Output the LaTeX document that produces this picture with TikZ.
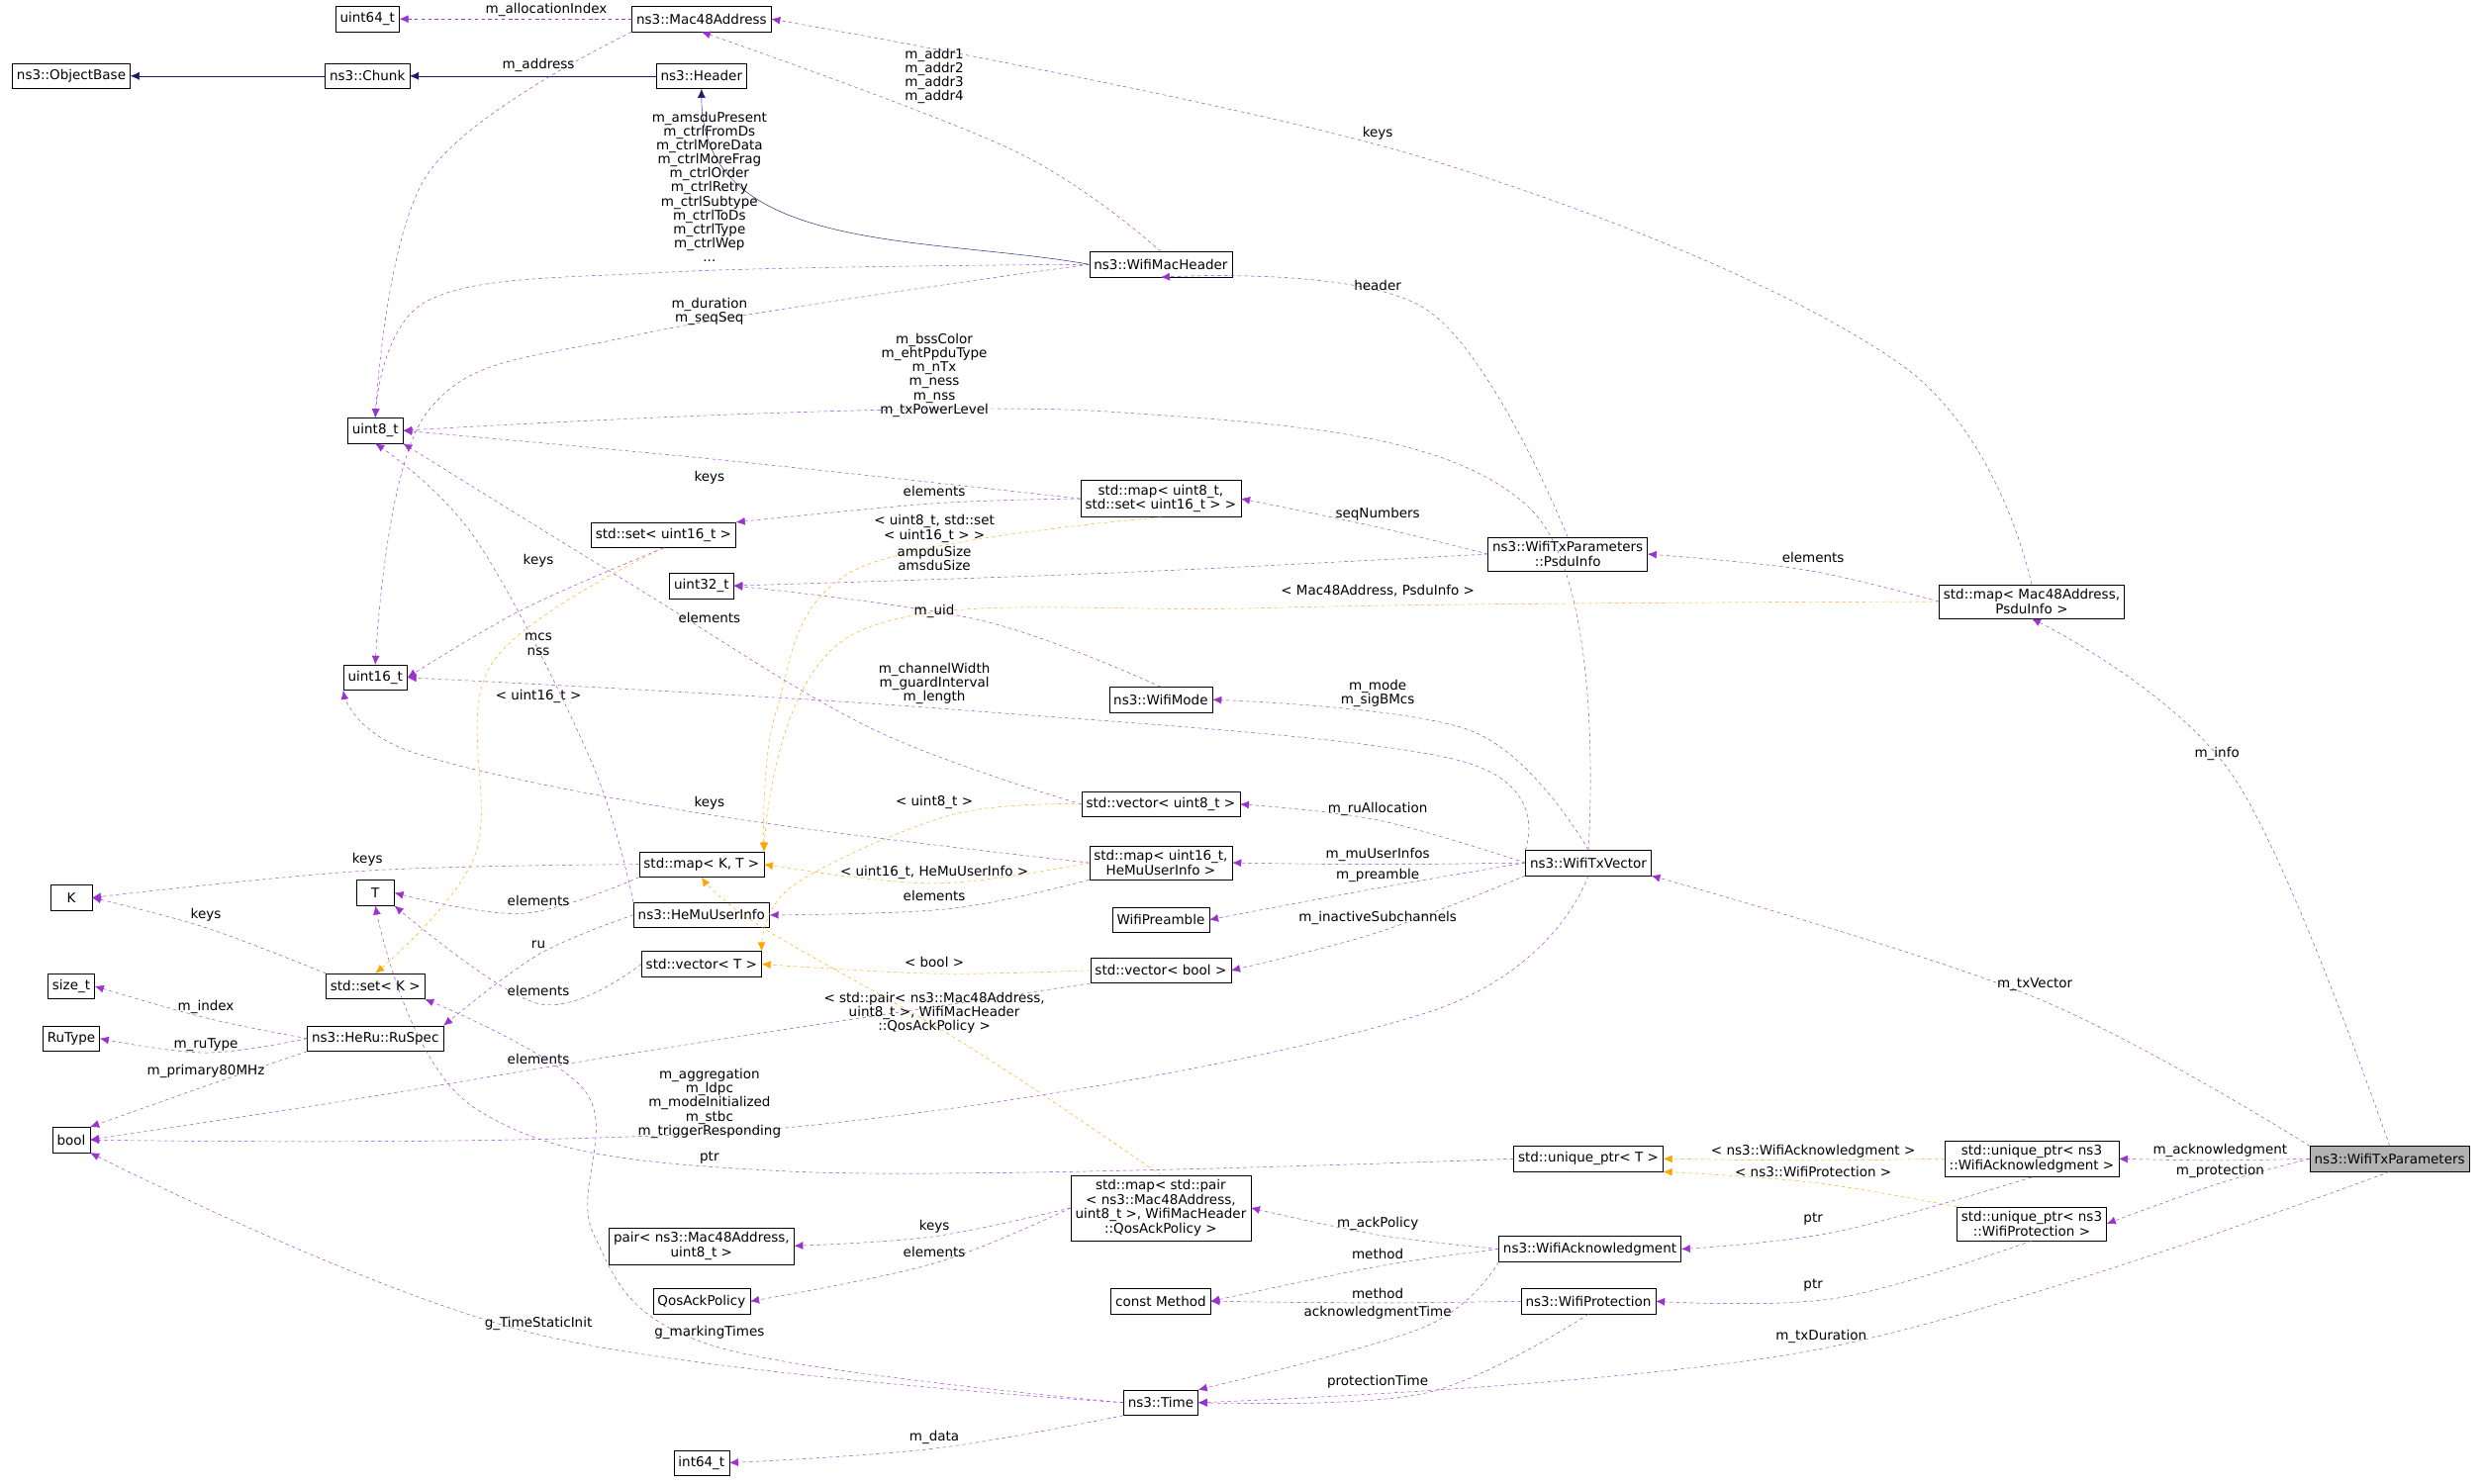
\documentclass[tikz,border=0pt]{standalone}
\usepackage{fontspec}
\setmainfont{DejaVu Sans}
\usetikzlibrary{arrows.meta}
\definecolor{usecol}{HTML}{9A32CD}
\definecolor{inhcol}{HTML}{191970}
\definecolor{tplcol}{HTML}{FFA500}
\tikzset{
  cls/.style={draw, fill=white, font=\fontsize{12}{13}\selectfont, align=center, inner xsep=4pt, inner ysep=4pt, minimum height=8mm},
  lbl/.style={font=\fontsize{12}{12.6}\selectfont, align=center, inner sep=0pt},
  use/.style={draw=usecol, dashed, -{Latex[length=8pt,width=7pt]}},
  inh/.style={draw=inhcol, -{Latex[length=8pt,width=7pt]}},
  tpl/.style={draw=tplcol, dashed, -{Latex[length=8pt,width=7pt]}}
}
% style, from, to, points between, label position, label
\newcommand\lnk[6]{\draw[#1] plot[smooth, tension=0.6] coordinates {(#2) #4 (#3)};
  \node[lbl] at (#5) {#6};}
\begin{document}
\begin{tikzpicture}[x=0.5mm, y=-0.5mm]
    \useasboundingbox (0,0) rectangle (1568,937);

    % classes
    \node[cls] (u64) at (232,12) {uint64\_t};
    \node[cls] (mac) at (443,12) {ns3::Mac48Address};
    \node[cls] (objbase) at (45,48) {ns3::ObjectBase};
    \node[cls] (chunk) at (232,48) {ns3::Chunk};
    \node[cls] (header) at (443,48) {ns3::Header};
    \node[cls] (machdr) at (733,167) {ns3::WifiMacHeader};
    \node[cls] (u8) at (237,272) {uint8\_t};
    \node[cls] (mapu8set) at (733,315) {std::map\textless{} uint8\_t,\\ std::set\textless{} uint16\_t \textgreater{} \textgreater};
    \node[cls] (setu16) at (419,338) {std::set\textless{} uint16\_t \textgreater};
    \node[cls] (psdu) at (990,350) {ns3::WifiTxParameters\\ ::PsduInfo};
    \node[cls] (u32) at (443,370) {uint32\_t};
    \node[cls] (mappsdu) at (1283,380) {std::map\textless{} Mac48Address,\\ PsduInfo \textgreater};
    \node[cls] (u16) at (237,428) {uint16\_t};
    \node[cls] (mode) at (733,442) {ns3::WifiMode};
    \node[cls] (vecu8) at (733,508) {std::vector\textless{} uint8\_t \textgreater};
    \node[cls] (mapmu) at (733,545) {std::map\textless{} uint16\_t,\\ HeMuUserInfo \textgreater};
    \node[cls] (txvec) at (1003,545) {ns3::WifiTxVector};
    \node[cls] (mapkt) at (443,546) {std::map\textless{} K, T \textgreater};
    \node[cls, minimum width=13mm] (K) at (45,567) {K};
    \node[cls] (preamble) at (733,581) {WifiPreamble};
    \node[cls] (muinfo) at (443,578) {ns3::HeMuUserInfo};
    \node[cls, minimum width=12mm] (T) at (237,564) {T};
    \node[cls] (vect) at (443,609) {std::vector\textless{} T \textgreater};
    \node[cls] (vecbool) at (733,613) {std::vector\textless{} bool \textgreater};
    \node[cls] (sizet) at (45,623) {size\_t};
    \node[cls] (setk) at (237,623) {std::set\textless{} K \textgreater};
    \node[cls] (rutype) at (45,656) {RuType};
    \node[cls] (ruspec) at (237,656) {ns3::HeRu::RuSpec};
    \node[cls] (bool) at (45,720) {bool};
    \node[cls] (uptr) at (1003,732) {std::unique\_ptr\textless{} T \textgreater};
    \node[cls] (uack) at (1283,732) {std::unique\_ptr\textless{} ns3\\ ::WifiAcknowledgment \textgreater};
    \node[cls, fill=gray!60] (params) at (1509,732) {ns3::WifiTxParameters};
    \node[cls] (uprot) at (1283,773) {std::unique\_ptr\textless{} ns3\\ ::WifiProtection \textgreater};
    \node[cls] (mappair) at (733,763) {std::map\textless{} std::pair\\ \textless{} ns3::Mac48Address,\\ uint8\_t \textgreater, WifiMacHeader\\ ::QosAckPolicy \textgreater};
    \node[cls] (pair) at (443,787) {pair\textless{} ns3::Mac48Address,\\ uint8\_t \textgreater};
    \node[cls] (ack) at (1004,789) {ns3::WifiAcknowledgment};
    \node[cls] (qos) at (443,822) {QosAckPolicy};
    \node[cls] (method) at (733,822) {const Method};
    \node[cls] (prot) at (1003,822) {ns3::WifiProtection};
    \node[cls] (time) at (733,886) {ns3::Time};
    \node[cls] (i64) at (443,924) {int64\_t};

    % inheritance
    \draw[inh] (chunk) -- (objbase);
    \draw[inh] (header) -- (chunk);
    \draw[inh] (machdr.west) to[out=170,in=-90] (header.south);

    % members
    \lnk{use}{mac.west}{u64.east}{}{345,6}{m\_allocationIndex}
    \lnk{use}{mac.south west}{u8.north}{(270,110)}{340,41}{m\_address}
    \lnk{use}{machdr.north}{mac.south}{(640,95)}{590,48}{m\_addr1\\m\_addr2\\m\_addr3\\m\_addr4}
    \lnk{use}{machdr.west}{u8.north}{(420,172) (270,190)}{448,118}{m\_amsduPresent\\m\_ctrlFromDs\\m\_ctrlMoreData\\m\_ctrlMoreFrag\\m\_ctrlOrder\\m\_ctrlRetry\\m\_ctrlSubtype\\m\_ctrlToDs\\m\_ctrlType\\m\_ctrlWep\\...}
    \lnk{use}{machdr.west}{u16.north}{(400,212) (270,260)}{448,197}{m\_duration\\m\_seqSeq}
    \lnk{use}{mappsdu.north}{mac.east}{(1200,230) (900,100)}{870,84}{keys}
    \lnk{use}{psdu.north}{machdr.south}{(900,195)}{870,180}{header}
    \lnk{use}{txvec.north}{u8.east}{(965,320) (700,260)}{590,237}{m\_bssColor\\m\_ehtPpduType\\m\_nTx\\m\_ness\\m\_nss\\m\_txPowerLevel}
    \lnk{use}{mapu8set.west}{u8.east}{(450,290)}{448,302}{keys}
    \lnk{use}{mapu8set.west}{setu16.north east}{(590,318)}{590,310}{elements}
    \lnk{tpl}{mapu8set.south}{mapkt.north east}{(540,360) (490,450)}{590,334}{\textless{} uint8\_t, std::set\\\textless{} uint16\_t \textgreater{} \textgreater}
    \lnk{use}{psdu.west}{mapu8set.east}{(870,333)}{870,325}{seqNumbers}
    \lnk{use}{psdu.west}{u32.east}{(700,362)}{590,353}{ampduSize\\amsduSize}
    \lnk{use}{setu16.south}{u16.east}{(330,385)}{340,354}{keys}
    \lnk{tpl}{setu16.south}{setk.north}{(310,420) (300,540)}{340,440}{\textless{} uint16\_t \textgreater}
    \lnk{use}{mappsdu.west}{psdu.east}{(1140,360)}{1145,352}{elements}
    \lnk{tpl}{mappsdu.west}{mapkt.north east}{(800,384) (540,400)}{870,373}{\textless{} Mac48Address, PsduInfo \textgreater}
    \lnk{use}{mode.north}{u32.east}{(620,392)}{590,386}{m\_uid}
    \lnk{use}{vecu8.west}{u8.south east}{(550,460) (400,370)}{448,390}{elements}
    \lnk{use}{muinfo.north west}{u8.south}{(373,480) (300,340)}{340,407}{mcs\\nss}
    \lnk{use}{txvec.north west}{u16.east}{(920,480) (600,448)}{590,432}{m\_channelWidth\\m\_guardInterval\\m\_length}
    \lnk{use}{txvec.north}{mode.east}{(930,462)}{870,438}{m\_mode\\m\_sigBMcs}
    \lnk{use}{mapmu.west}{u16.south west}{(450,515) (260,475)}{448,507}{keys}
    \lnk{tpl}{vecu8.west}{vect.north east}{(600,515) (500,560)}{590,507}{\textless{} uint8\_t \textgreater}
    \lnk{use}{txvec.west}{vecu8.east}{(870,518)}{870,511}{m\_ruAllocation}
    \lnk{use}{txvec.west}{mapmu.east}{(870,546)}{870,540}{m\_muUserInfos}
    \lnk{use}{txvec.west}{preamble.east}{(870,561)}{870,553}{m\_preamble}
    \lnk{tpl}{mapmu.west}{mapkt.east}{(590,558)}{590,551}{\textless{} uint16\_t, HeMuUserInfo \textgreater}
    \lnk{use}{mapmu.south west}{muinfo.east}{(600,574)}{590,566}{elements}
    \lnk{use}{mapkt.west}{K.east}{(232,550)}{232,543}{keys}
    \lnk{use}{mapkt.south west}{T.east}{(330,577)}{340,569}{elements}
    \lnk{use}{setk.north west}{K.east}{(130,586)}{130,578}{keys}
    \lnk{use}{muinfo.west}{ruspec.north east}{(340,603)}{340,597}{ru}
    \lnk{use}{txvec.south west}{vecbool.east}{(870,589)}{870,580}{m\_inactiveSubchannels}
    \lnk{tpl}{vecbool.west}{vect.east}{(590,615)}{590,608}{\textless{} bool \textgreater}
    \lnk{use}{vect.west}{T.south east}{(340,634)}{340,626}{elements}
    \lnk{use}{ruspec.west}{sizet.east}{(130,643)}{130,636}{m\_index}
    \lnk{use}{ruspec.west}{rutype.east}{(130,665)}{130,660}{m\_ruType}
    \lnk{use}{ruspec.south west}{bool.north east}{(130,686)}{130,677}{m\_primary80MHz}
    \lnk{use}{vecbool.south west}{bool.east}{(420,662) (220,695)}{340,669}{elements}
    \lnk{tpl}{mappair.north}{mapkt.south}{(610,660) (480,585)}{590,640}{\textless{} std::pair\textless{} ns3::Mac48Address,\\uint8\_t \textgreater, WifiMacHeader\\::QosAckPolicy \textgreater}
    \lnk{use}{txvec.south}{bool.east}{(900,640) (500,712)}{448,697}{m\_aggregation\\m\_ldpc\\m\_modeInitialized\\m\_stbc\\m\_triggerResponding}
    \lnk{use}{uptr.west}{T.south}{(500,740) (300,700)}{448,731}{ptr}
    \lnk{tpl}{uack.west}{uptr.east}{(1145,733)}{1145,727}{\textless{} ns3::WifiAcknowledgment \textgreater}
    \lnk{tpl}{uprot.north west}{uptr.south east}{(1145,747)}{1145,740}{\textless{} ns3::WifiProtection \textgreater}
    \lnk{use}{params.west}{uack.east}{(1400,733)}{1402,727}{m\_acknowledgment}
    \lnk{use}{params.west}{uprot.east}{(1400,748)}{1402,740}{m\_protection}
    \lnk{use}{params.north}{mappsdu.south}{(1410,490)}{1400,476}{m\_info}
    \lnk{use}{params.north west}{txvec.south east}{(1285,630)}{1285,622}{m\_txVector}
    \lnk{use}{params.south}{time.east}{(1150,852)}{1150,844}{m\_txDuration}
    \lnk{use}{uack.south}{ack.east}{(1160,778)}{1145,770}{ptr}
    \lnk{use}{uprot.south}{prot.east}{(1160,820)}{1145,812}{ptr}
    \lnk{use}{mappair.west}{pair.east}{(590,781)}{590,775}{keys}
    \lnk{use}{mappair.west}{qos.east}{(590,798)}{590,791}{elements}
    \lnk{use}{ack.west}{mappair.east}{(870,780)}{870,773}{m\_ackPolicy}
    \lnk{use}{ack.west}{method.east}{(870,800)}{870,792}{method}
    \lnk{use}{prot.west}{method.east}{(870,823)}{870,817}{method}
    \lnk{use}{ack.south west}{time.north east}{(900,838)}{870,829}{acknowledgmentTime}
    \lnk{use}{prot.south}{time.east}{(900,880)}{870,873}{protectionTime}
    \lnk{use}{time.west}{bool.south east}{(340,843)}{340,836}{g\_TimeStaticInit}
    \lnk{use}{time.west}{setk.south east}{(450,850) (375,780) (370,690)}{448,842}{g\_markingTimes}
    \lnk{use}{time.south west}{i64.east}{(590,915)}{590,908}{m\_data}

\end{tikzpicture}
\end{document}
